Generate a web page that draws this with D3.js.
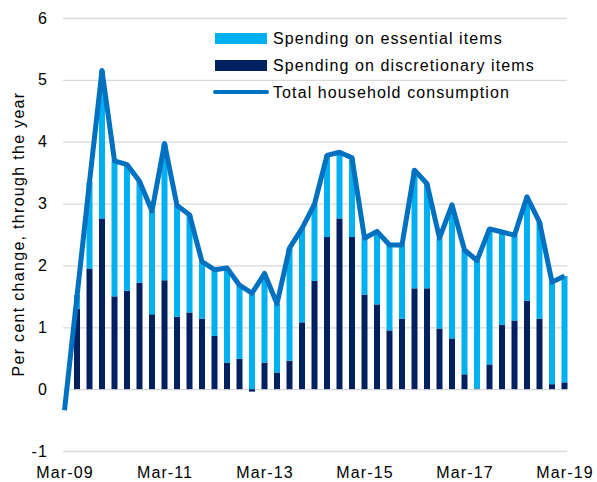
<!DOCTYPE html>
<html>
<head>
<meta charset="utf-8">
<script src="https://cdn.jsdelivr.net/npm/d3@7"></script>
<style>
  body { margin: 0; background: #fff; }
  text { font-family: Arial, "Liberation Sans", sans-serif; font-size: 16px; fill: #000; letter-spacing: 1.1px; }
</style>
</head>
<body>
<svg id="chart" width="597" height="482"></svg>
<script>
// quarterly, through-the-year growth
var quarters = [
  "Mar-09","Jun-09","Sep-09","Dec-09","Mar-10","Jun-10","Sep-10","Dec-10",
  "Mar-11","Jun-11","Sep-11","Dec-11","Mar-12","Jun-12","Sep-12","Dec-12",
  "Mar-13","Jun-13","Sep-13","Dec-13","Mar-14","Jun-14","Sep-14","Dec-14",
  "Mar-15","Jun-15","Sep-15","Dec-15","Mar-16","Jun-16","Sep-16","Dec-16",
  "Mar-17","Jun-17","Sep-17","Dec-17","Mar-18","Jun-18","Sep-18","Dec-18",
  "Mar-19"
];
var discretionary = [
  0, 1.30, 1.95, 2.76, 1.50, 1.59, 1.72, 1.21,
  1.76, 1.17, 1.24, 1.14, 0.86, 0.43, 0.49, -0.04,
  0.43, 0.27, 0.46, 1.08, 1.75, 2.46, 2.76, 2.46,
  1.53, 1.37, 0.95, 1.14, 1.63, 1.63, 0.98, 0.82,
  0.24, 0.01, 0.40, 1.04, 1.11, 1.43, 1.14, 0.08,
  0.11
];
var essential = [
  0, 0.22, 1.40, 2.39, 2.19, 2.04, 1.64, 1.67,
  2.21, 1.80, 1.58, 0.92, 1.07, 1.53, 1.19, 1.57,
  1.44, 1.11, 1.82, 1.52, 1.24, 1.32, 1.07, 1.28,
  0.91, 1.18, 1.38, 1.19, 1.91, 1.69, 1.46, 2.16,
  2.01, 2.07, 2.19, 1.50, 1.38, 1.68, 1.56, 1.65,
  1.72
];
var total = [
  -0.34, 1.50, 3.35, 5.15, 3.69, 3.63, 3.36, 2.88,
  3.97, 2.97, 2.82, 2.06, 1.93, 1.96, 1.68, 1.55,
  1.87, 1.38, 2.28, 2.60, 2.99, 3.78, 3.83, 3.74,
  2.44, 2.55, 2.33, 2.33, 3.54, 3.32, 2.44, 2.98,
  2.25, 2.08, 2.59, 2.54, 2.49, 3.11, 2.70, 1.73,
  1.83
];
var yTicks = [-1, 0, 1, 2, 3, 4, 5, 6];
var xTicks = ["Mar-09", "Mar-11", "Mar-13", "Mar-15", "Mar-17", "Mar-19"];

var colEss = "#00b0f0", colDisc = "#002060", colTotal = "#0070c0";

var svg = d3.select("#chart");
var x = d3.scalePoint().domain(quarters).range([64.5, 564.5]);
var y = d3.scaleLinear().domain([-1, 6]).range([451, 18]);

// gridlines + y labels
var yAxis = svg.append("g")
  .attr("transform", "translate(63,0)")
  .call(d3.axisLeft(y).tickValues(yTicks).tickSize(-504).tickPadding(15)
    .tickFormat(function(d) { return String(d); }));
yAxis.select(".domain").remove();
yAxis.selectAll("line").attr("stroke", "#d9d9d9").attr("stroke-width", 1.3);
yAxis.selectAll("text").attr("font-size", null).attr("font-family", null);

var xAxis = svg.append("g")
  .attr("transform", "translate(0,451)")
  .call(d3.axisBottom(x).tickValues(xTicks).tickSize(0).tickPadding(16));
xAxis.select(".domain").remove();
xAxis.selectAll("text").attr("font-size", null).attr("font-family", null);

// stacked bars
var rows = quarters.map(function(q, i) {
  return { q: q, disc: discretionary[i], ess: essential[i] };
});
var series = d3.stack().keys(["disc", "ess"]).offset(d3.stackOffsetDiverging)(rows);
var colors = { disc: colDisc, ess: colEss };

svg.append("g").selectAll("g")
  .data(series)
  .enter().append("g")
    .attr("fill", function(s) { return colors[s.key]; })
  .selectAll("rect")
  .data(function(s) { return s; })
  .enter().append("rect")
    .attr("x", function(d) { return x(d.data.q) - 3; })
    .attr("width", 6)
    .attr("y", function(d) { return y(Math.max(d[0], d[1])); })
    .attr("height", function(d) { return Math.abs(y(d[0]) - y(d[1])); });

// total line
var line = d3.line()
  .x(function(d, i) { return x(quarters[i]); })
  .y(function(d) { return y(d); });
svg.append("path")
  .datum(total)
  .attr("d", line)
  .attr("fill", "none")
  .attr("stroke", colTotal)
  .attr("stroke-width", 5)
  .attr("stroke-linejoin", "round");

// y title
svg.append("text")
  .attr("transform", "translate(24,234) rotate(-90)")
  .attr("text-anchor", "middle")
  .style("letter-spacing", "1.3px")
  .text("Per cent change, through the year");

// legend
var legend = [
  { label: "Spending on essential items", color: colEss, type: "rect" },
  { label: "Spending on discretionary items", color: colDisc, type: "rect" },
  { label: "Total household consumption", color: colTotal, type: "line" }
];
var lg = svg.append("g").selectAll("g")
  .data(legend)
  .enter().append("g")
    .attr("transform", function(d, i) { return "translate(0," + (38 + i * 27) + ")"; });
lg.filter(function(d) { return d.type === "rect"; }).append("rect")
  .attr("x", 215).attr("y", -5).attr("width", 52).attr("height", 11)
  .attr("fill", function(d) { return d.color; });
lg.filter(function(d) { return d.type === "line"; }).append("line")
  .attr("x1", 215).attr("x2", 267).attr("y1", 0).attr("y2", 0)
  .attr("stroke", function(d) { return d.color; })
  .attr("stroke-width", 4).attr("stroke-linecap", "round");
lg.append("text")
  .attr("x", 273).attr("y", 6)
  .text(function(d) { return d.label; });
</script>
</body>
</html>
